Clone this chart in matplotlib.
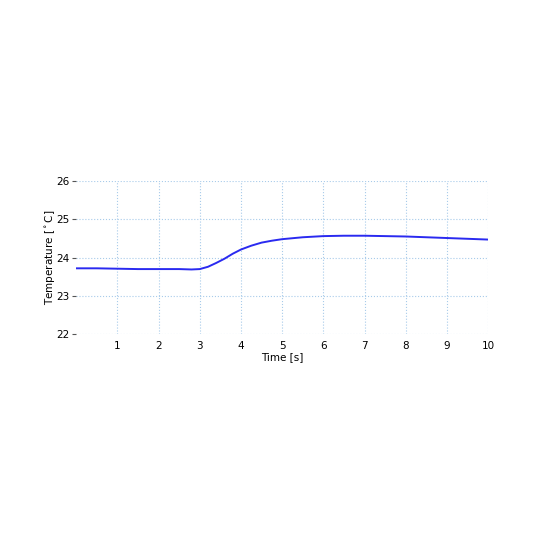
import matplotlib
matplotlib.use("Agg")
import matplotlib.pyplot as plt

time_s = [0.0, 0.5, 1.0, 1.5, 2.0, 2.5, 2.8, 3.0, 3.2, 3.4, 3.6, 3.8, 4.0, 4.25, 4.5, 4.75,
          5.0, 5.5, 6.0, 6.5, 7.0, 7.5, 8.0, 8.5, 9.0, 9.5, 10.0]
temp_c = [23.72, 23.72, 23.71, 23.70, 23.70, 23.70, 23.69, 23.70, 23.76, 23.86, 23.97, 24.10, 24.21,
          24.31, 24.39, 24.44, 24.48, 24.53, 24.56, 24.57, 24.57, 24.56, 24.55, 24.53, 24.51, 24.49, 24.47]
xticks = [1, 2, 3, 4, 5, 6, 7, 8, 9, 10]
yticks = [22, 23, 24, 25, 26]

fig = plt.figure(figsize=(5.4, 5.4), dpi=100)
ax = fig.add_axes([0.141, 0.381, 0.763, 0.284])
ax.plot(time_s, temp_c, color="#2a2af0", linewidth=1.4)
ax.set_xlim(0, 10)
ax.set_ylim(22, 26)
ax.set_xticks(xticks)
ax.set_yticks(yticks)
ax.grid(True, color="#a8cbea", linestyle=":", linewidth=0.8)
for s in ax.spines.values():
    s.set_visible(False)
ax.tick_params(axis="both", labelsize=7.5, length=3, color="#555555", pad=2)
ax.tick_params(axis="x", length=0, pad=5)
ax.set_xlabel("Time [s]", fontsize=7.5, labelpad=1)
ax.set_ylabel("Temperature [$^\\circ$C]", fontsize=7.5, labelpad=-1)
fig.savefig("out.png", dpi=100)
